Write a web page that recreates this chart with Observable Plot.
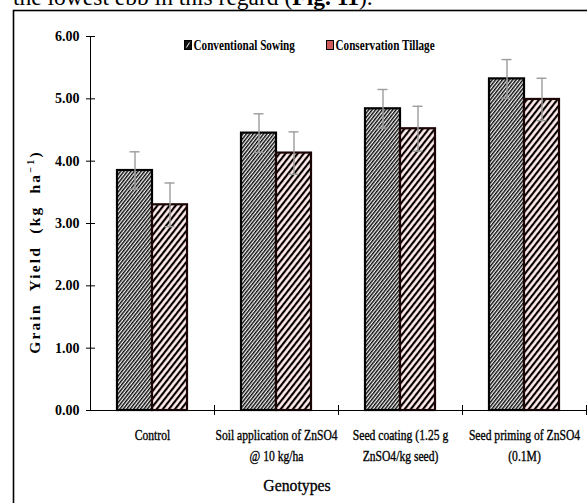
<!DOCTYPE html>
<html>
<head>
<meta charset="utf-8">
<script src="https://cdn.jsdelivr.net/npm/d3@7"></script>
<script src="https://cdn.jsdelivr.net/npm/@observablehq/plot@0.6"></script>
<style>
  body { margin: 0; background: #fff; }
  #chart { position: relative; width: 587px; height: 503px; overflow: hidden; }
</style>
</head>
<body>
<div id="chart"></div>
<script>
// Grain yield under zinc treatments, two tillage systems
const treatments = [
  "Control",
  "Soil application of ZnSO4\n@ 10 kg/ha",
  "Seed coating (1.25 g\nZnSO4/kg seed)",
  "Seed priming of ZnSO4\n(0.1M)"
];
const seriesNames = ["Conventional Sowing", "Conservation Tillage"];
const conventional = [3.85, 4.45, 4.84, 5.32];
const conventionalErr = [0.30, 0.31, 0.31, 0.31];
const tillage = [3.30, 4.13, 4.52, 4.99];
const tillageErr = [0.35, 0.34, 0.36, 0.34];
const yTicks = [0, 1, 2, 3, 4, 5, 6];
const xTitle = "Genotypes";
const yTitle = ["Grain  Yield  (kg  ha", "\u22121", ")"];
const leadText = ["the lowest ebb in this regard (", "Fig. 11", ")."];

const rows = treatments.flatMap((t, i) => [
  {treatment: t, series: seriesNames[0], value: conventional[i], err: conventionalErr[i]},
  {treatment: t, series: seriesNames[1], value: tillage[i], err: tillageErr[i]}
]);
const convRows = rows.filter(d => d.series === seriesNames[0]);
const tillRows = rows.filter(d => d.series === seriesNames[1]);

const serif = "'Liberation Serif', 'Times New Roman', serif";
const errColor = "#9c9c9c";

const chart = Plot.plot({
  width: 587,
  height: 503,
  marginLeft: 90,
  marginRight: 1,
  marginTop: 36,
  marginBottom: 93,
  style: {fontFamily: serif, background: "transparent", color: "#000"},
  fx: {domain: treatments, padding: 0, label: null},
  x: {domain: seriesNames, paddingInner: 0, paddingOuter: 0.77, axis: null},
  y: {domain: [0, 6], label: null},
  marks: [
    Plot.barY(convRows, {fx: "treatment", x: "series", y: "value",
      fill: "url(#hatch-conv)", stroke: "#000", strokeWidth: 2.2}),
    Plot.barY(tillRows, {fx: "treatment", x: "series", y: "value",
      fill: "url(#hatch-till)", stroke: "#1a0404", strokeWidth: 2.2}),
    Plot.ruleX(rows, {fx: "treatment", x: "series",
      y1: d => d.value - d.err, y2: d => d.value + d.err,
      stroke: errColor, strokeWidth: 1.4}),
    Plot.tickY(rows, {fx: "treatment", x: "series", y: d => d.value + d.err,
      insetLeft: 12.5, insetRight: 12.5, stroke: errColor, strokeWidth: 1.4}),
    Plot.tickY(rows, {fx: "treatment", x: "series", y: d => d.value - d.err,
      insetLeft: 12.5, insetRight: 12.5, stroke: errColor, strokeWidth: 1.4}),
    Plot.ruleY([0], {stroke: "#000", strokeWidth: 1}),
    Plot.frame({anchor: "left", facetAnchor: "left", stroke: "#000"}),
    // y ticks crossing the axis line
    Plot.axisY({ticks: yTicks, tickSize: 9, dx: 5, fill: "none", label: null}),
    Plot.axisY({ticks: yTicks, tickSize: 0, tickPadding: 11, tickFormat: d => d.toFixed(2),
      fontSize: 14, fontWeight: "bold", label: null}),
    // category boundary ticks on the x axis
    Plot.axisFx({anchor: "bottom", tickSize: 10, dy: -5, dx: 62, fill: "none", label: null}),
    Plot.axisFx({anchor: "bottom", tickSize: 0, tickPadding: 15, fontSize: 14.5, lineHeight: 1.45,
      textStroke: "#000", textStrokeWidth: 0.35, label: null})
  ]
});

document.getElementById("chart").appendChild(chart);

const svg = d3.select(chart);

// hatch patterns for the bars and legend swatches
const defs = svg.insert("defs", ":first-child");
const pConv = defs.append("pattern").attr("id", "hatch-conv")
  .attr("patternUnits", "userSpaceOnUse").attr("width", 2.7).attr("height", 2.7)
  .attr("patternTransform", "rotate(38)");
pConv.append("rect").attr("width", 2.7).attr("height", 2.7).attr("fill", "#f2f2f2");
pConv.append("rect").attr("width", 1.4).attr("height", 2.7).attr("fill", "#0a0a0a");

const pTill = defs.append("pattern").attr("id", "hatch-till")
  .attr("patternUnits", "userSpaceOnUse").attr("width", 4.8).attr("height", 4.8)
  .attr("patternTransform", "rotate(38)");
pTill.append("rect").attr("width", 4.8).attr("height", 4.8).attr("fill", "#fffafa");
pTill.append("rect").attr("x", 2.0).attr("width", 0.7).attr("height", 4.8).attr("fill", "#f0c0c0");
pTill.append("rect").attr("x", 4.2).attr("width", 0.6).attr("height", 4.8).attr("fill", "#f0c0c0");
pTill.append("rect").attr("width", 2.0).attr("height", 4.8).attr("fill", "#000");

// squeeze text horizontally to a narrow face
function condense(sel, k) {
  sel.each(function () {
    const spans = this.querySelectorAll("tspan");
    const targets = spans.length ? Array.from(spans) : [this];
    for (const t of targets) {
      const len = t.getComputedTextLength();
      t.setAttribute("textLength", (len * k).toFixed(1));
      t.setAttribute("lengthAdjust", "spacingAndGlyphs");
    }
  });
}
condense(svg.selectAll('[aria-label="fx-axis tick label"] text'), 0.8);

// outer box
svg.append("rect")
  .attr("x", 13.5).attr("y", 10.5).attr("width", 700).attr("height", 700)
  .attr("fill", "none").attr("stroke", "#000").attr("stroke-width", 1.6);

// running text above the box
const lead = svg.append("text")
  .attr("x", 13).attr("y", 5)
  .attr("text-anchor", "start")
  .attr("font-family", serif).attr("font-size", 23.5).attr("fill", "#000");
lead.append("tspan").text(leadText[0]);
lead.append("tspan").attr("font-weight", "bold").text(leadText[1]);
lead.append("tspan").text(leadText[2]);

// legend
const legend = svg.append("g")
  .attr("text-anchor", "start")
  .attr("font-family", serif).attr("font-weight", "bold").attr("font-size", 14.5);
const legendItems = [
  {name: seriesNames[0], x: 184.5, swatch: "#111"},
  {name: seriesNames[1], x: 326.5, swatch: "#cf5a5a"}
];
legendItems.forEach((it, i) => {
  legend.append("rect").attr("x", it.x).attr("y", 40.5).attr("width", 7).attr("height", 9)
    .attr("fill", it.swatch).attr("stroke", "#000").attr("stroke-width", 1);
  if (i === 0) {
    legend.append("line").attr("x1", it.x + 2).attr("y1", 47.5)
      .attr("x2", it.x + 5).attr("y2", 42.5).attr("stroke", "#fff").attr("stroke-width", 1);
  }
  const t = legend.append("text").attr("x", it.x + 9).attr("y", 49.5).attr("fill", "#000").text(it.name);
  condense(t, 0.77);
});

// axis titles
const yt = svg.append("text")
  .attr("transform", "translate(40,252) rotate(-90)")
  .attr("text-anchor", "middle")
  .attr("font-family", serif).attr("font-weight", "bold").attr("font-size", 15.5)
  .attr("fill", "#000")
  .style("white-space", "pre")
  .style("letter-spacing", "2.2px");
yt.append("tspan").text(yTitle[0]);
yt.append("tspan").attr("font-size", 10).attr("dy", -6).text(yTitle[1]);
yt.append("tspan").attr("dy", 6).text(yTitle[2]);

const xt = svg.append("text")
  .attr("x", 297).attr("y", 491)
  .attr("text-anchor", "middle")
  .attr("font-family", serif).attr("font-size", 17.5)
  .attr("fill", "#000").attr("stroke", "#000").attr("stroke-width", 0.35)
  .text(xTitle);
condense(xt, 0.9);
</script>
</body>
</html>
